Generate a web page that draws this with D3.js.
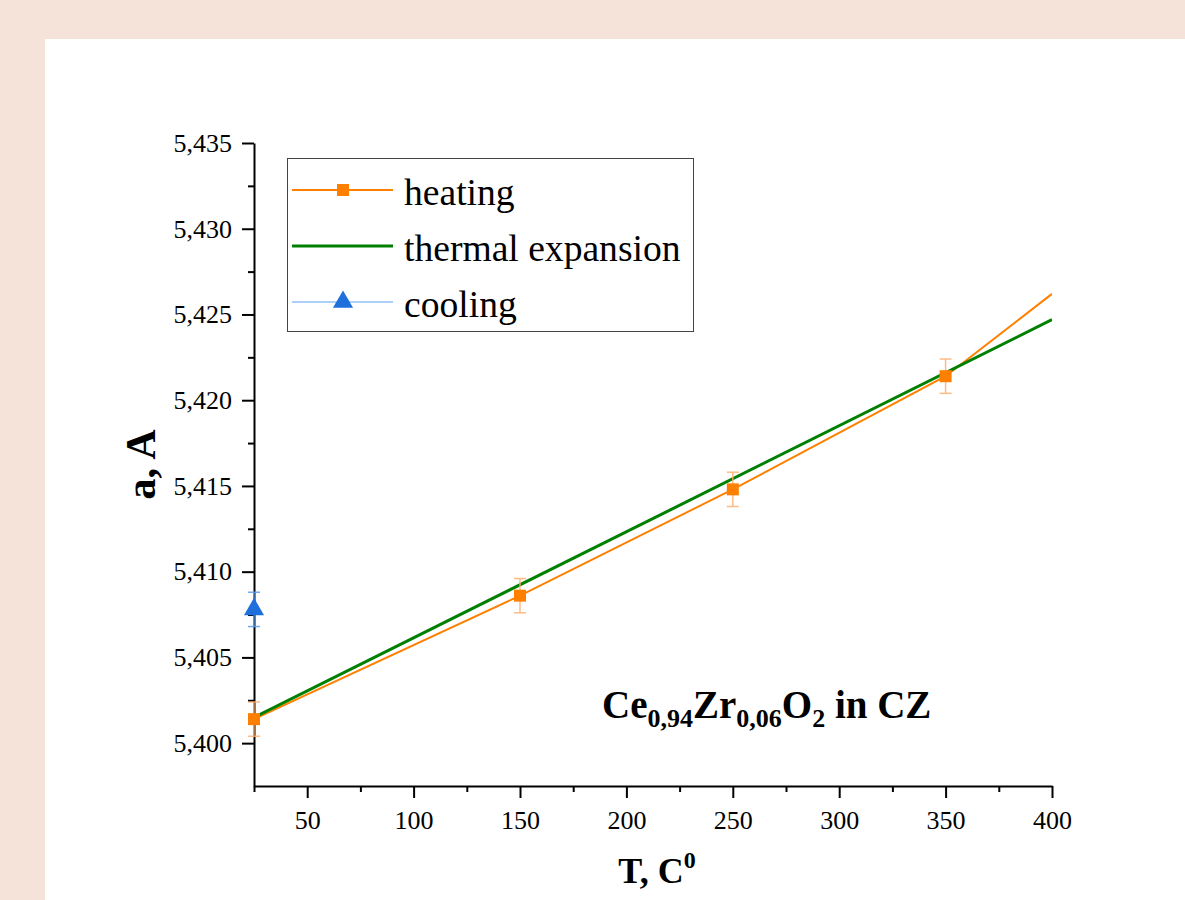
<!DOCTYPE html>
<html>
<head>
<meta charset="utf-8">
<script src="https://cdn.jsdelivr.net/npm/d3@7"></script>
<style>
  html, body { margin: 0; padding: 0; background: #f5e2d9; }
  svg { display: block; }
  text { font-family: "Liberation Serif", "Times New Roman", serif; fill: #000; }
</style>
</head>
<body>
<script>
(function () {
  'use strict';

  // heating: measured lattice parameter with error bars
  var heatingT = [25, 150, 250, 350];
  var heatingA = [5.4014, 5.4086, 5.4148, 5.4214];
  var heatingErr = [0.001, 0.001, 0.001, 0.001];
  // heating line as drawn (runs on to 400 without a marker)
  var heatingLineT = [25, 150, 250, 350, 400];
  var heatingLineA = [5.4014, 5.4086, 5.4148, 5.4214, 5.4262];
  // thermal expansion line
  var expansionT = [25, 400];
  var expansionA = [5.4015, 5.4247];
  // cooling
  var coolingT = [25];
  var coolingA = [5.4078];
  var coolingErr = [0.001];

  var xTicks = [50, 100, 150, 200, 250, 300, 350, 400];
  var xMinorTicks = [25, 75, 125, 175, 225, 275, 325, 375];
  var yTicks = [5.400, 5.405, 5.410, 5.415, 5.420, 5.425, 5.430, 5.435];
  var yMinorTicks = [5.4025, 5.4075, 5.4125, 5.4175, 5.4225, 5.4275, 5.4325];

  var W = 1185, H = 900;
  var left = 254, right = 1052, top = 143, bottom = 786;

  var orange = '#ff8000',
    orangeLight = '#ffb070',
    green = '#008000',
    blue = '#1f70dc',
    blueLight = '#5b9ef0';

  var svg = d3.select('body')
    .append('svg')
    .attr('width', W)
    .attr('height', H);

  svg.append('rect')
    .attr('x', 45)
    .attr('y', 39)
    .attr('width', W - 45)
    .attr('height', H - 39)
    .attr('fill', '#fff');

  var x = d3.scaleLinear().domain([25, 400]).range([left, right]);
  var y = d3.scaleLinear().domain([5.3975, 5.435]).range([bottom, top]);

  var fmtY = function (d) {
    return d3.format('.3f')(d).replace('.', ',');
  };

  svg.append('clipPath')
    .attr('id', 'plot-clip')
    .append('rect')
    .attr('x', left)
    .attr('y', top - 20)
    .attr('width', right - left)
    .attr('height', bottom - top + 20);

  // axes
  var xAxis = svg.append('g')
    .attr('transform', 'translate(0,' + bottom + ')')
    .call(d3.axisBottom(x).tickValues(xTicks).tickSize(12).tickSizeOuter(0).tickPadding(12));
  svg.append('g')
    .attr('transform', 'translate(0,' + bottom + ')')
    .call(d3.axisBottom(x).tickValues(xMinorTicks).tickSize(6).tickSizeOuter(0).tickFormat(''))
    .select('.domain').remove();

  svg.append('g')
    .attr('transform', 'translate(' + left + ',0)')
    .call(d3.axisLeft(y).tickValues(yTicks).tickFormat(fmtY).tickSize(12).tickSizeOuter(0).tickPadding(10));
  svg.append('g')
    .attr('transform', 'translate(' + left + ',0)')
    .call(d3.axisLeft(y).tickValues(yMinorTicks).tickSize(6).tickSizeOuter(0).tickFormat(''))
    .select('.domain').remove();

  svg.selectAll('.domain, .tick line')
    .attr('stroke', '#000')
    .attr('stroke-width', 2);
  svg.selectAll('.tick text')
    .style('font-family', '"Liberation Serif", serif')
    .style('font-size', '26px')
    .attr('fill', '#000');
  xAxis.selectAll('.tick text').attr('dy', '0.72em');

  // lines
  var plot = svg.append('g').attr('clip-path', 'url(#plot-clip)');

  var line = d3.line()
    .x(function (d) { return x(d[0]); })
    .y(function (d) { return y(d[1]); });

  plot.append('path')
    .datum(d3.zip(heatingLineT, heatingLineA))
    .attr('d', line)
    .attr('fill', 'none')
    .attr('stroke', orange)
    .attr('stroke-width', 2);

  plot.append('path')
    .datum(d3.zip(expansionT, expansionA))
    .attr('d', line)
    .attr('fill', 'none')
    .attr('stroke', green)
    .attr('stroke-width', 3);

  // error bars
  function errorBars(ts, as, errs, color) {
    var g = svg.append('g')
      .attr('stroke', color)
      .attr('stroke-width', 1.5)
      .attr('opacity', 0.85);
    d3.zip(ts, as, errs).forEach(function (d) {
      var cx = x(d[0]), y1 = y(d[1] - d[2]), y2 = y(d[1] + d[2]);
      g.append('line').attr('x1', cx).attr('x2', cx).attr('y1', y1).attr('y2', y2);
      g.append('line').attr('x1', cx - 6).attr('x2', cx + 6).attr('y1', y1).attr('y2', y1);
      g.append('line').attr('x1', cx - 6).attr('x2', cx + 6).attr('y1', y2).attr('y2', y2);
    });
  }

  errorBars(heatingT, heatingA, heatingErr, orangeLight);
  errorBars(coolingT, coolingA, coolingErr, blueLight);

  // markers
  var square = d3.symbol().type(d3.symbolSquare).size(144);
  var triangle = d3.symbol().type(d3.symbolTriangle).size(175);

  svg.append('g')
    .selectAll('path')
    .data(d3.zip(heatingT, heatingA))
    .enter()
    .append('path')
    .attr('d', square)
    .attr('transform', function (d) {
      return 'translate(' + x(d[0]) + ',' + y(d[1]) + ')';
    })
    .attr('fill', orange);

  svg.append('g')
    .selectAll('path')
    .data(d3.zip(coolingT, coolingA))
    .enter()
    .append('path')
    .attr('d', triangle)
    .attr('transform', function (d) {
      return 'translate(' + x(d[0]) + ',' + y(d[1]) + ')';
    })
    .attr('fill', blue);

  // legend
  var legend = svg.append('g');
  legend.append('rect')
    .attr('x', 287.5)
    .attr('y', 158.5)
    .attr('width', 406)
    .attr('height', 173)
    .attr('fill', '#fff')
    .attr('stroke', '#444')
    .attr('stroke-width', 1);

  var legendItems = [
    { label: 'heating', color: orange, width: 2, marker: square, y: 190 },
    { label: 'thermal expansion', color: green, width: 3, marker: null, y: 246 },
    { label: 'cooling', color: blueLight, width: 1, marker: triangle, fill: blue, y: 302 }
  ];

  legendItems.forEach(function (d) {
    legend.append('line')
      .attr('x1', 292)
      .attr('x2', 393)
      .attr('y1', d.y)
      .attr('y2', d.y)
      .attr('stroke', d.color)
      .attr('stroke-width', d.width);
    if (d.marker) {
      legend.append('path')
        .attr('d', d.marker)
        .attr('transform', 'translate(343,' + d.y + ')')
        .attr('fill', d.fill || d.color);
    }
    legend.append('text')
      .attr('x', 404)
      .attr('y', d.y + 15)
      .style('font-size', '37.6px')
      .text(d.label);
  });

  // annotation
  var note = svg.append('text')
    .attr('x', 602)
    .attr('y', 718)
    .style('font-size', '39px')
    .style('font-weight', 'bold');
  note.append('tspan').text('Ce');
  note.append('tspan').attr('dy', 9).style('font-size', '26px').text('0,94');
  note.append('tspan').attr('dy', -9).text('Zr');
  note.append('tspan').attr('dy', 9).style('font-size', '26px').text('0,06');
  note.append('tspan').attr('dy', -9).text('O');
  note.append('tspan').attr('dy', 9).style('font-size', '26px').text('2');
  note.append('tspan').attr('dy', -9).text(' in CZ');

  // axis titles
  var xt = svg.append('text')
    .attr('x', (left + right) / 2 + 4)
    .attr('y', 883)
    .attr('text-anchor', 'middle')
    .style('font-size', '36px')
    .style('font-weight', 'bold');
  xt.append('tspan').text('T, C');
  xt.append('tspan').attr('dy', -15).style('font-size', '24px').text('0');

  svg.append('text')
    .attr('transform', 'translate(155,' + ((top + bottom) / 2) + ') rotate(-90)')
    .attr('text-anchor', 'middle')
    .style('font-size', '42px')
    .style('font-weight', 'bold')
    .text('a, A');
}());
</script>
</body>
</html>
